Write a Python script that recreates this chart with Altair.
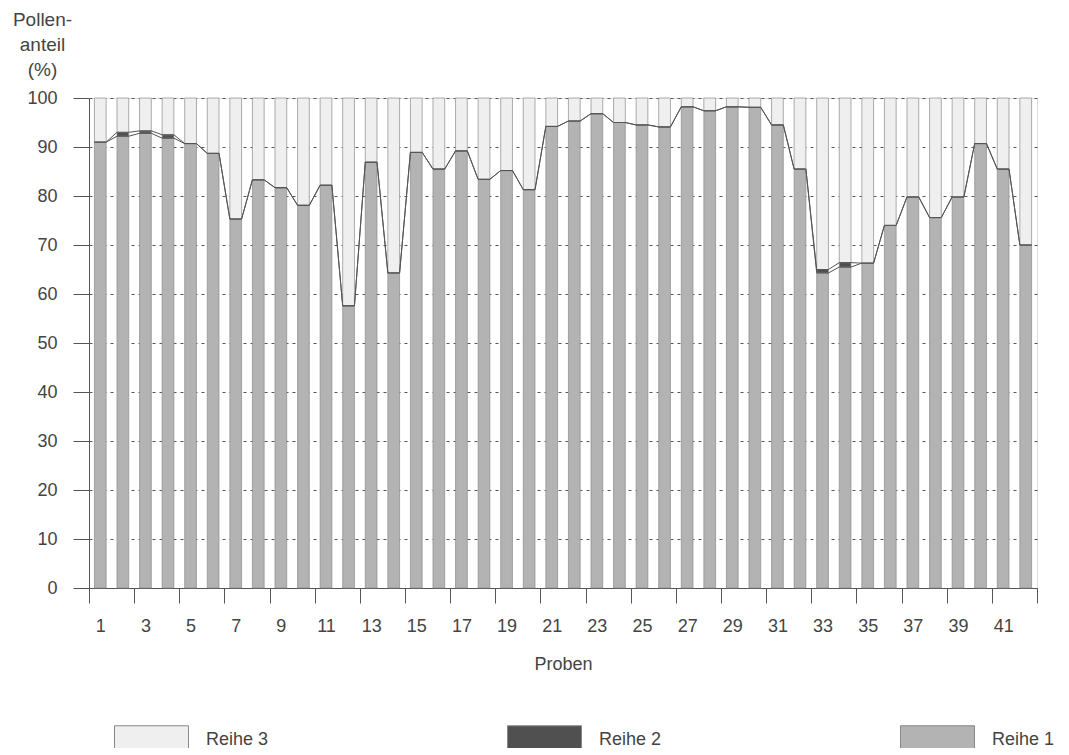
import altair as alt
import pandas as pd

# ---- data ----
probes = list(range(1, 43))
reihe1 = [91.0, 92.2, 92.8, 91.8, 90.7, 88.7, 75.3, 83.3, 81.7, 78.1,
          82.2, 57.6, 86.9, 64.3, 88.9, 85.5, 89.2, 83.4, 85.2, 81.3,
          94.2, 95.3, 96.8, 95.0, 94.5, 94.1, 98.2, 97.4, 98.2, 98.1,
          94.5, 85.5, 64.3, 65.5, 66.3, 74.0, 79.8, 75.6, 79.8, 90.7,
          85.5, 70.0]
reihe2 = [0.0, 0.8, 0.5, 0.7, 0.0, 0.0, 0.0, 0.0, 0.0, 0.0,
          0.0, 0.0, 0.0, 0.0, 0.0, 0.0, 0.0, 0.0, 0.0, 0.0,
          0.0, 0.0, 0.0, 0.0, 0.0, 0.0, 0.0, 0.0, 0.0, 0.0,
          0.0, 0.0, 0.7, 0.9, 0.0, 0.0, 0.0, 0.0, 0.0, 0.0,
          0.0, 0.0]
series_names = ["Reihe 3", "Reihe 2", "Reihe 1"]
series_colors = ["#efefef", "#505050", "#b3b3b3"]
y_ticks = list(range(0, 101, 10))

HALF = 0.26  # half bar width in category units

rows = []
line_rows = []
for p, a, b in zip(probes, reihe1, reihe2):
    for name, lo, hi in [("Reihe 1", 0, a), ("Reihe 2", a, a + b), ("Reihe 3", a + b, 100)]:
        rows.append({"probe": p, "series": name, "y0": lo, "y1": hi,
                     "xl": p - HALF, "xr": p + HALF})
    for lid, val in [("r1", a), ("r12", a + b)]:
        line_rows.append({"line": lid, "x": p - HALF, "y": val})
        line_rows.append({"line": lid, "x": p + HALF, "y": val})

bars_df = pd.DataFrame(rows)
lines_df = pd.DataFrame(line_rows)

W, H = 948, 490
band = W / 42.0
tick_vals = [i + 0.5 for i in range(0, 43)]
TXT = "#444"
FS = 18

xscale = alt.Scale(domain=[0.5, 42.5], nice=False, zero=False)
yscale = alt.Scale(domain=[0, 100], nice=False)

xaxis = alt.Axis(values=tick_vals, title="Proben",
                 labelExpr="((datum.value + 0.5) % 2 == 1 && datum.value < 42) ? '' + (datum.value + 0.5) : ''",
                 labelOffset=band / 2, labelOverlap=False, labelFlush=False,
                 labelFontSize=FS, labelColor=TXT, labelPadding=14,
                 tickSize=15, tickColor="#555", domainColor="#555",
                 titleFontSize=FS, titleFontWeight="normal", titleColor=TXT,
                 titlePadding=20, grid=False)
yaxis = alt.Axis(values=y_ticks, title=["Pollen-", "anteil", "(%)"],
                 titleAngle=0, titleAlign="center", titleBaseline="top",
                 titleX=-47, titleY=-88, titleLineHeight=25,
                 titleFontSize=19, titleFontWeight="normal", titleColor=TXT,
                 labelFontSize=FS, labelColor=TXT, labelPadding=16,
                 tickSize=16, tickColor="#555", domainColor="#555",
                 grid=True, gridColor="#555", gridDash=[3, 4], gridWidth=1)

bars = alt.Chart(bars_df).mark_rect(stroke="#8a8a8a", strokeWidth=0.7).encode(
    x=alt.X("xl:Q", scale=xscale, axis=xaxis),
    x2="xr:Q",
    y=alt.Y("y0:Q", scale=yscale, axis=yaxis),
    y2="y1:Q",
    color=alt.Color("series:N",
                    scale=alt.Scale(domain=series_names, range=series_colors),
                    legend=alt.Legend(orient="none", legendX=25, legendY=604,
                                      direction="horizontal", columns=3,
                                      title=None,
                                      symbolType="M-1,-0.378H1V0.378H-1Z",
                                      symbolSize=5476, symbolStrokeColor="#888",
                                      symbolStrokeWidth=1, symbolOpacity=1,
                                      labelFontSize=FS, labelColor=TXT,
                                      labelOffset=17, columnPadding=236,
                                      padding=0, labelLimit=200)),
)

lines = alt.Chart(lines_df).mark_line(color="#555", strokeWidth=1).encode(
    x=alt.X("x:Q", scale=xscale),
    y=alt.Y("y:Q", scale=yscale),
    detail="line:N",
    order="x:Q",
)

chart = alt.layer(bars, lines).properties(
    width=W, height=H,
    autosize=alt.AutoSizeParams(type="none"),
    padding={"left": 81, "top": 90, "right": 24, "bottom": 160},
).configure_view(stroke="#555", strokeWidth=1).configure(
    font="Liberation Sans", background="white"
)

chart.save("out.html", embed_options={"renderer": "svg", "actions": False})
